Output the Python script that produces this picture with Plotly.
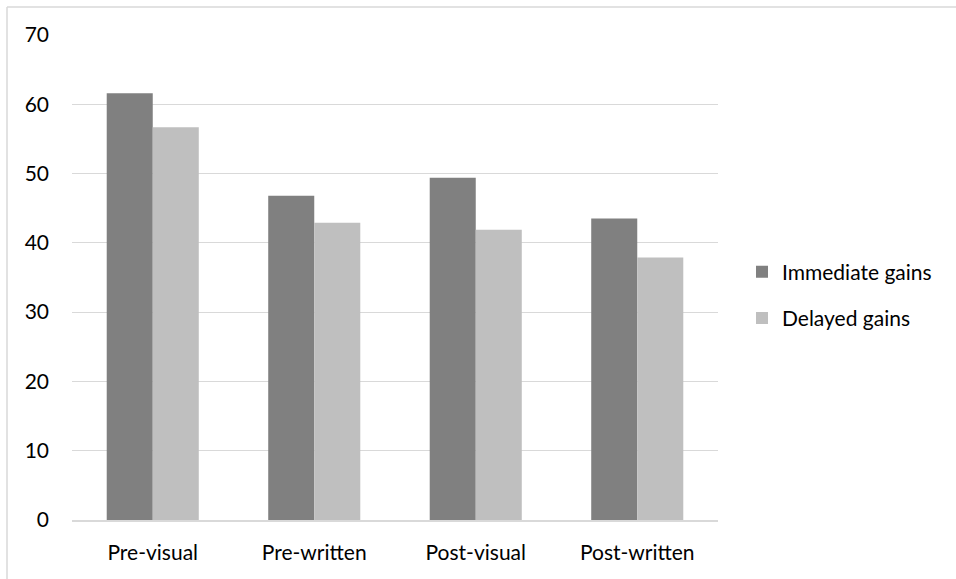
import plotly.graph_objects as go

categories = ["Pre-visual", "Pre-written", "Post-visual", "Post-written"]
immediate = [61.6, 46.8, 49.4, 43.5]
delayed = [56.7, 42.9, 41.9, 37.9]
y_ticks = [0, 10, 20, 30, 40, 50, 60, 70]

W, H = 956, 579
L, R, T, B = 72, 238, 35, 59
pw, ph = W - L - R, H - T - B

FONT = "Lato"
FS = 21

fig = go.Figure()
fig.add_trace(go.Bar(name="Immediate gains", x=categories, y=immediate,
                     legendgroup="a",
                     marker=dict(color="#808080", line=dict(width=0))))
fig.add_trace(go.Bar(name="Delayed gains", x=categories, y=delayed,
                     legendgroup="b",
                     marker=dict(color="#bfbfbf", line=dict(width=0))))

def px_x(p):
    return (p - L) / pw

def px_y(p):
    return (H - B - p) / ph

fig.update_layout(
    width=W, height=H,
    margin=dict(l=L, r=R, t=T, b=B),
    paper_bgcolor="white", plot_bgcolor="white",
    barmode="group", bargap=0.43, bargroupgap=0,
    font=dict(family=FONT, size=FS, color="#000000"),
    showlegend=True,
    legend=dict(x=px_x(742), y=px_y(295), xanchor="left", yanchor="middle",
                font=dict(family=FONT, size=FS, color="#000000"),
                tracegroupgap=16, itemwidth=30, bgcolor="rgba(0,0,0,0)"),
    xaxis=dict(showgrid=False, showline=True, linecolor="#d9d9d9", linewidth=1.5,
               ticks="", ticklabelstandoff=13,
               tickfont=dict(family=FONT, size=FS, color="#000000")),
    yaxis=dict(range=[0, 70], tickvals=y_ticks, showgrid=True, gridcolor="#d9d9d9",
               gridwidth=1.3, zeroline=False, showline=False, ticks="",
               ticklabelstandoff=22,
               tickfont=dict(family=FONT, size=FS, color="#000000")),
    shapes=[
        dict(type="line", xref="paper", yref="paper",
             x0=px_x(7), x1=px_x(956), y0=px_y(7), y1=px_y(7),
             line=dict(color="#d9d9d9", width=1.5)),
        dict(type="line", xref="paper", yref="paper",
             x0=px_x(7), x1=px_x(7), y0=px_y(7), y1=px_y(579),
             line=dict(color="#d9d9d9", width=1.5)),
    ],
)

fig.write_html("out.html",
               config={"displayModeBar": False},
               post_script="document.body.style.margin='0';document.body.style.padding='0';")
